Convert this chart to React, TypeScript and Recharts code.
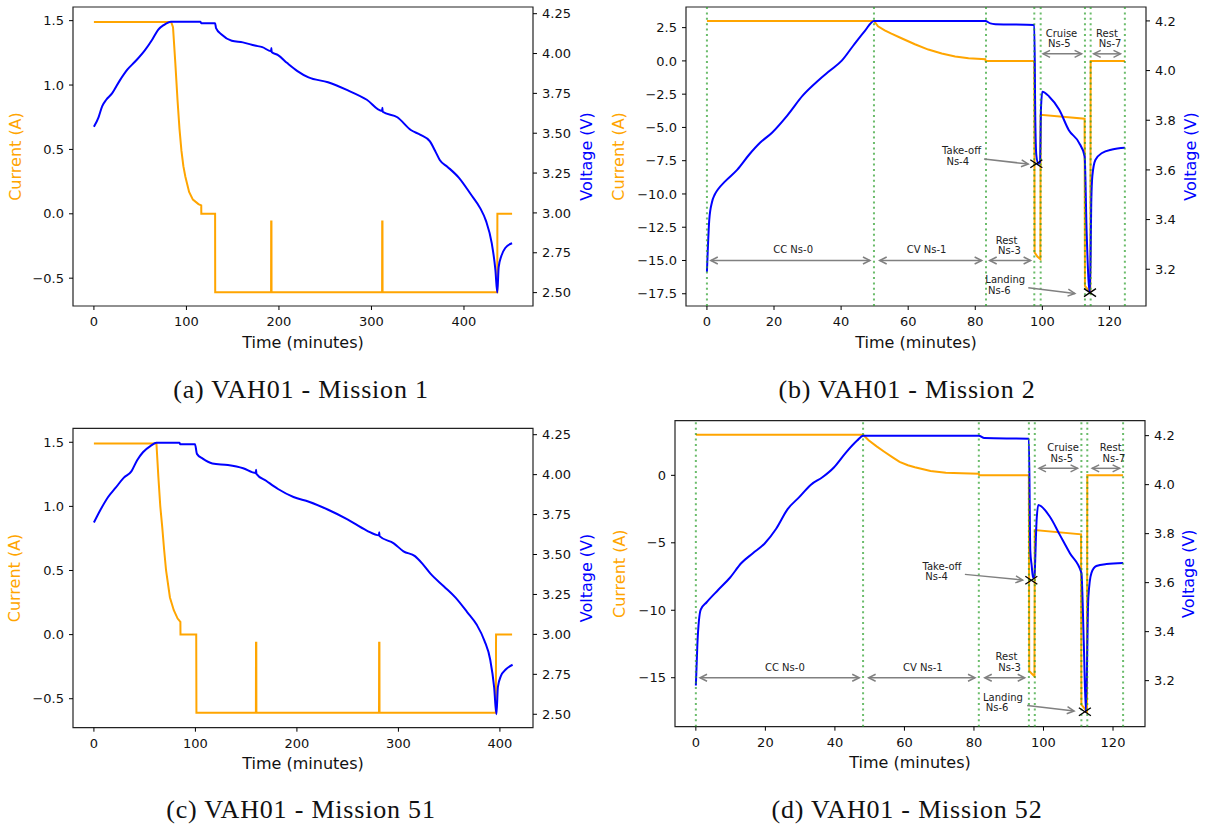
import React from 'react'
import {
    LineChart,
    Line,
    XAxis,
    YAxis,
    ReferenceLine,
    ReferenceDot,
    ReferenceArea,
    Label,
} from 'recharts'

// ---------- Mission 1 ----------
const m1Current = [
    [0, 1.49], [83.5, 1.49], [85.5, 1.45], [88, 1.17], [90.4, 0.88], [92.5, 0.66], [94.6, 0.49],
    [96.7, 0.37], [98.8, 0.29], [102.9, 0.17], [107, 0.11], [113, 0.075], [116, 0.065], [116.1, 0],
    [131, 0], [131.1, -0.61], [191.5, -0.61], [191.6, -0.06], [191.9, -0.06], [192, -0.61],
    [311.5, -0.61], [311.6, -0.06], [311.9, -0.06], [312, -0.61], [436, -0.61], [436.1, 0], [452, 0],
]
const m1Voltage = [
    [0, 3.54], [5, 3.6], [9, 3.67], [13.3, 3.71], [19.6, 3.75], [27.9, 3.83], [36.3, 3.9],
    [44.6, 3.95], [55, 4.02], [63.3, 4.09], [69.6, 4.15], [75.8, 4.18], [83.3, 4.2], [115, 4.2],
    [116, 4.19], [131, 4.19], [132, 4.16], [138, 4.12], [149, 4.08], [161, 4.07], [174, 4.05],
    [182, 4.04], [191.5, 4.015], [191.8, 4.035], [192.1, 4.01], [199, 3.99], [209, 3.94],
    [220, 3.89], [232, 3.85], [253, 3.82], [274, 3.77], [295, 3.71], [311.5, 3.64], [311.8, 3.66],
    [312.1, 3.635], [328, 3.6], [342.5, 3.52], [353, 3.49], [363, 3.45], [369.6, 3.38], [374, 3.33],
    [382, 3.29], [394.6, 3.22], [407, 3.12], [417.5, 3.03], [423.8, 2.95], [430, 2.81], [434, 2.64],
    [436, 2.5], [437.5, 2.66], [440.4, 2.73], [444.6, 2.78], [452, 2.81],
]

// ---------- Mission 51 ----------
const m51Current = [
    [0, 1.49], [61.6, 1.49], [63.5, 1.23], [65.4, 1.0], [67.3, 0.84], [69.2, 0.66], [71.1, 0.5],
    [74.9, 0.29], [78.7, 0.19], [82.5, 0.125], [84.4, 0.107], [85.2, 0.1], [85.3, 0], [100.8, 0],
    [101, -0.61], [159.6, -0.61], [159.7, -0.063], [160, -0.063], [160.1, -0.61], [280.9, -0.61],
    [281, -0.063], [281.3, -0.063], [281.4, -0.61], [396, -0.61], [396.2, 0], [412, 0],
]
const m51Voltage = [
    [0, 3.7], [6.5, 3.78], [14, 3.86], [21.7, 3.92], [29.3, 3.98], [36.9, 4.02], [42.6, 4.09],
    [48.3, 4.14], [55.9, 4.18], [61.6, 4.2], [84.4, 4.2], [85, 4.19], [99.6, 4.19], [101.5, 4.13],
    [107.2, 4.1], [116.7, 4.07], [132, 4.06], [147, 4.04], [159.5, 4.01], [159.8, 4.03],
    [160.1, 4.005], [170, 3.96], [181.4, 3.91], [196.6, 3.86], [211.8, 3.83], [230.8, 3.78],
    [249.8, 3.72], [268.8, 3.65], [280.8, 3.62], [281.1, 3.64], [281.4, 3.615], [295.4, 3.57],
    [305, 3.52], [316.3, 3.49], [324, 3.44], [331.6, 3.38], [344.9, 3.3], [356.3, 3.23],
    [367.7, 3.14], [377.2, 3.06], [384.8, 2.96], [390.5, 2.84], [394.3, 2.67], [396.6, 2.5],
    [398, 2.67], [401, 2.74], [405.7, 2.78], [412.5, 2.81],
]

// ---------- Mission 2 ----------
const m2Current = [
    [0, 3.0], [49.8, 3.0], [51, 2.6], [53, 2.3], [55, 2.05], [58, 1.7], [62, 1.25], [66, 0.85],
    [70, 0.55], [74, 0.33], [78, 0.2], [83, 0.12], [83.1, 0], [97.6, 0], [97.7, -14.4],
    [98.5, -14.7], [99.4, -14.9], [99.5, -4.05], [112.6, -4.35], [112.7, -16.9], [114.3, -17.4],
    [114.4, 0], [124.6, 0],
]
const m2Voltage = [
    [0, 3.19], [0.23, 3.27], [0.7, 3.4], [1.5, 3.47], [2.3, 3.5], [3.2, 3.52], [5.5, 3.555],
    [9, 3.6], [12.5, 3.66], [15.9, 3.71], [19.4, 3.75], [24, 3.82], [28.6, 3.9], [33.2, 3.96],
    [36.7, 4.0], [40.2, 4.04], [43.6, 4.1], [47.1, 4.16], [49.8, 4.2], [83, 4.2], [84.5, 4.19],
    [86, 4.187], [97.6, 4.184], [97.9, 3.8], [98.2, 3.66], [98.8, 3.625], [99.3, 3.63],
    [99.6, 3.85], [100, 3.915], [102, 3.896], [105, 3.843], [107.9, 3.76], [110.9, 3.71],
    [112.6, 3.655], [113.2, 3.35], [113.8, 3.147], [114.2, 3.106], [114.6, 3.48], [114.9, 3.575],
    [115.8, 3.64], [117.8, 3.668], [120.8, 3.682], [124.6, 3.689],
]
const m2Phases = [0, 49.8, 83.2, 97.6, 99.5, 112.7, 114.4, 124.6]
const m2Spans = [
    [1.15, 48.6, -15], [51.5, 81.9, -15], [84.3, 96.5, -15], [100.2, 111.7, 0.53], [115.3, 123.3, 0.53],
]
const m2Pointers = [
    [82.6, -7.38, 95.8, -7.75], [95.8, -17.05, 109.7, -17.48],
]
const m2Notes = [
    ['CC Ns-0', 25.7, -14.2, 'middle'], ['CV Ns-1', 65.5, -14.2, 'middle'],
    ['Rest', 86.1, -13.48, 'start'], ['Ns-3', 86.8, -14.23, 'start'],
    ['Cruise', 101.0, 2.08, 'start'], ['Ns-5', 101.7, 1.28, 'start'],
    ['Rest', 116.0, 2.08, 'start'], ['Ns-7', 116.8, 1.28, 'start'],
    ['Take-off', 70.1, -6.75, 'start'], ['Ns-4', 71.4, -7.55, 'start'],
    ['Landing', 83.0, -16.43, 'start'], ['Ns-6', 83.8, -17.23, 'start'],
]
const m2Marks = [[98.2, 3.625], [114.2, 3.106]]

// ---------- Mission 52 ----------
const m52Current = [
    [0, 3.0], [48.1, 3.0], [49.7, 2.6], [52, 2.15], [54.2, 1.75], [56.5, 1.35], [58.6, 1.0],
    [61, 0.75], [63, 0.6], [67.5, 0.32], [71.9, 0.2], [76.4, 0.15], [81.4, 0.12], [81.5, 0],
    [95.8, 0], [95.9, -14.5], [97.4, -14.9], [97.5, -4.05], [110.8, -4.37], [110.9, -17.0],
    [112.5, -17.5], [112.6, 0], [122.9, 0],
]
const m52Voltage = [
    [0, 3.18], [0.44, 3.35], [1.4, 3.49], [3.1, 3.52], [6.4, 3.57], [9.8, 3.62], [13.1, 3.68],
    [16.4, 3.72], [19.8, 3.76], [23.1, 3.82], [26.4, 3.9], [29.8, 3.95], [33.1, 4.0], [36.4, 4.03],
    [39.7, 4.07], [43.1, 4.13], [46.4, 4.18], [48.1, 4.2], [81.4, 4.2], [83, 4.19], [95.8, 4.187],
    [96.2, 3.73], [96.6, 3.67], [97, 3.62], [97.4, 3.63], [98, 3.85], [98.5, 3.917], [101.8, 3.87],
    [104.7, 3.795], [107.6, 3.72], [110.9, 3.64], [111.6, 3.35], [112.2, 3.073], [112.9, 3.54],
    [113.8, 3.64], [115.2, 3.668], [118.1, 3.676], [122.9, 3.68],
]
const m52Phases = [0, 48.1, 81.4, 95.8, 97.5, 110.9, 112.6, 122.9]
const m52Spans = [
    [1.2, 47.0, -15], [49.7, 80.3, -15], [83.1, 94.6, -15], [98.7, 109.8, 0.52], [114.0, 121.9, 0.52],
]
const m52Pointers = [
    [77.4, -7.34, 94.0, -7.76], [95.3, -17.05, 108.8, -17.47],
]
const m52Notes = [
    ['CC Ns-0', 25.6, -14.23, 'middle'], ['CV Ns-1', 65.3, -14.23, 'middle'],
    ['Rest', 86.2, -13.45, 'start'], ['Ns-3', 87.0, -14.23, 'start'],
    ['Cruise', 101.1, 2.07, 'start'], ['Ns-5', 102.0, 1.26, 'start'],
    ['Rest', 116.2, 2.07, 'start'], ['Ns-7', 117.0, 1.26, 'start'],
    ['Take-off', 65.2, -6.72, 'start'], ['Ns-4', 66.0, -7.52, 'start'],
    ['Landing', 82.6, -16.46, 'start'], ['Ns-6', 83.4, -17.22, 'start'],
]
const m52Marks = [[96.5, 3.61], [111.9, 3.073]]

// ---------- ticks ----------
const longTimeTicks = [0, 100, 200, 300, 400]
const flightTimeTicks = [0, 20, 40, 60, 80, 100, 120]
const smallCurrentTicks = [-0.5, 0, 0.5, 1, 1.5]
const wideVoltageTicks = [2.5, 2.75, 3, 3.25, 3.5, 3.75, 4, 4.25]
const m2CurrentTicks = [-17.5, -15, -12.5, -10, -7.5, -5, -2.5, 0, 2.5]
const m52CurrentTicks = [-15, -10, -5, 0]
const flightVoltageTicks = [3.2, 3.4, 3.6, 3.8, 4.0, 4.2]

const fmt = (digits: number) => (v: number) =>
    (v < 0 ? '\u2212' : '') + Math.abs(v).toFixed(digits)

const GRAY = '#808080'
const tickStyle = { fontSize: 13, fill: '#111', fontFamily: 'DejaVu Sans' }

function head(x: number, y: number, ux: number, uy: number) {
    const len = 7
    const half = 3.5
    const bx = x - ux * len
    const by = y - uy * len
    return `${bx - uy * half},${by + ux * half} ${x},${y} ${bx + uy * half},${by - ux * half}`
}

const arrowShape = (both: boolean) => (p: any) => {
    const { x1, y1, x2, y2 } = p
    const d = Math.hypot(x2 - x1, y2 - y1) || 1
    const ux = (x2 - x1) / d
    const uy = (y2 - y1) / d
    return (
        <g>
            <line x1={x1} y1={y1} x2={x2} y2={y2} stroke={GRAY} strokeWidth={1.5} />
            <polyline points={head(x2, y2, ux, uy)} fill="none" stroke={GRAY} strokeWidth={1.5} />
            {both && (
                <polyline points={head(x1, y1, -ux, -uy)} fill="none" stroke={GRAY} strokeWidth={1.5} />
            )}
        </g>
    )
}

const crossShape = (p: any) => (
    <g stroke="#000" strokeWidth={1.3}>
        <line x1={p.cx - 6} y1={p.cy - 4} x2={p.cx + 6} y2={p.cy + 4} />
        <line x1={p.cx - 6} y1={p.cy + 4} x2={p.cx + 6} y2={p.cy - 4} />
    </g>
)

function Panel(props: any) {
    const {
        box, plot, xDomain, xTicks, iDomain, iTicks, iDigits, vDomain, vTicks, vDigits,
        current, voltage, labelX, phases = [], spans = [], pointers = [], notes = [], marks = [],
    } = props
    const iData = current.map(([t, i]: number[]) => ({ t, i }))
    const vData = voltage.map(([t, v]: number[]) => ({ t, v }))
    const midY = (plot.top + plot.bottom) / 2
    const midX = (plot.left + plot.right) / 2
    return (
        <div style={{ position: 'absolute', left: box.left, top: box.top }}>
            <LineChart
                width={box.w}
                height={box.h}
                margin={{ top: plot.top, right: 0, bottom: 0, left: 0 }}
                style={{ fontFamily: 'DejaVu Sans' }}
            >
                <XAxis
                    dataKey="t"
                    type="number"
                    domain={xDomain}
                    ticks={xTicks}
                    interval={0}
                    allowDataOverflow
                    height={box.h - plot.bottom}
                    axisLine={false}
                    tickSize={4}
                    tickMargin={7}
                    tick={tickStyle}
                    tickLine={{ stroke: '#000' }}
                >
                    <Label
                        content={() => (
                            <text
                                x={midX}
                                y={plot.bottom + 36}
                                textAnchor="middle"
                                dominantBaseline="central"
                                fontSize={16}
                                fill="#111"
                                fontFamily="DejaVu Sans"
                            >
                                Time (minutes)
                            </text>
                        )}
                    />
                </XAxis>
                <YAxis
                    yAxisId="i"
                    type="number"
                    domain={iDomain}
                    ticks={iTicks}
                    interval={0}
                    allowDataOverflow
                    width={plot.left}
                    axisLine={false}
                    tickSize={4}
                    tickMargin={5}
                    tick={tickStyle}
                    tickLine={{ stroke: '#000' }}
                    tickFormatter={fmt(iDigits)}
                >
                    <Label
                        content={() => (
                            <text
                                x={labelX[0]}
                                y={midY}
                                transform={`rotate(-90, ${labelX[0]}, ${midY})`}
                                textAnchor="middle"
                                dominantBaseline="central"
                                fontSize={16}
                                fill="orange"
                                fontFamily="DejaVu Sans"
                            >
                                Current (A)
                            </text>
                        )}
                    />
                </YAxis>
                <YAxis
                    yAxisId="v"
                    orientation="right"
                    type="number"
                    domain={vDomain}
                    ticks={vTicks}
                    interval={0}
                    allowDataOverflow
                    width={box.w - plot.right}
                    axisLine={false}
                    tickSize={4}
                    tickMargin={5}
                    tick={tickStyle}
                    tickLine={{ stroke: '#000' }}
                    tickFormatter={fmt(vDigits)}
                >
                    <Label
                        content={() => (
                            <text
                                x={labelX[1]}
                                y={midY}
                                transform={`rotate(-90, ${labelX[1]}, ${midY})`}
                                textAnchor="middle"
                                dominantBaseline="central"
                                fontSize={16}
                                fill="blue"
                                fontFamily="DejaVu Sans"
                            >
                                Voltage (V)
                            </text>
                        )}
                    />
                </YAxis>
                <Line
                    data={iData}
                    dataKey="i"
                    yAxisId="i"
                    type="linear"
                    stroke="orange"
                    strokeWidth={2}
                    dot={false}
                    isAnimationActive={false}
                />
                <Line
                    data={vData}
                    dataKey="v"
                    yAxisId="v"
                    type="monotone"
                    stroke="blue"
                    strokeWidth={2}
                    dot={false}
                    isAnimationActive={false}
                />
                {phases.map((t: number, k: number) => (
                    <ReferenceLine
                        key={'p' + k}
                        x={t}
                        yAxisId="i"
                        stroke="#2ca02c"
                        strokeOpacity={0.7}
                        strokeWidth={2}
                        strokeDasharray="2 3.4"
                    />
                ))}
                {spans.map(([a, b, y]: number[], k: number) => (
                    <ReferenceLine
                        key={'s' + k}
                        yAxisId="i"
                        segment={[{ x: a, y }, { x: b, y }]}
                        ifOverflow="visible"
                        shape={arrowShape(true)}
                    />
                ))}
                {pointers.map(([a, ya, b, yb]: number[], k: number) => (
                    <ReferenceLine
                        key={'a' + k}
                        yAxisId="i"
                        segment={[{ x: a, y: ya }, { x: b, y: yb }]}
                        ifOverflow="visible"
                        shape={arrowShape(false)}
                    />
                ))}
                {notes.map(([text, t, y, anchor]: any[], k: number) => (
                    <ReferenceDot
                        key={'n' + k}
                        x={t}
                        y={y}
                        yAxisId="i"
                        r={1}
                        ifOverflow="visible"
                        shape={(p: any) => (
                            <text
                                x={p.cx}
                                y={p.cy}
                                textAnchor={anchor}
                                dominantBaseline="central"
                                fontSize={10}
                                fill="#222"
                                fontFamily="DejaVu Sans"
                            >
                                {text}
                            </text>
                        )}
                    />
                ))}
                {marks.map(([t, v]: number[], k: number) => (
                    <ReferenceDot
                        key={'m' + k}
                        x={t}
                        y={v}
                        yAxisId="v"
                        r={4}
                        ifOverflow="visible"
                        shape={crossShape}
                    />
                ))}
                <ReferenceArea
                    x1={xDomain[0]}
                    x2={xDomain[1]}
                    y1={iDomain[0]}
                    y2={iDomain[1]}
                    yAxisId="i"
                    ifOverflow="visible"
                    fill="none"
                    stroke="#222"
                    strokeWidth={1.2}
                />
            </LineChart>
        </div>
    )
}

function Caption({ text, cx, cy }: { text: string; cx: number; cy: number }) {
    return (
        <div
            style={{
                position: 'absolute',
                left: cx - 300,
                top: cy - 15,
                width: 600,
                lineHeight: '30px',
                textAlign: 'center',
                fontFamily: 'Liberation Serif',
                fontSize: 26,
                letterSpacing: 0.8,
                color: '#111',
                whiteSpace: 'nowrap',
            }}
        >
            {text}
        </div>
    )
}

export default function App() {
    return (
        <div
            style={{
                position: 'fixed',
                left: 0,
                top: 0,
                width: 1212,
                height: 827,
                background: '#fff',
                overflow: 'hidden',
            }}
        >
            <Panel
                box={{ left: 0, top: 0, w: 600, h: 360 }}
                plot={{ left: 73, right: 533, top: 7, bottom: 306 }}
                labelX={[15.5, 586]}
                xDomain={[-22.6, 474.6]}
                xTicks={longTimeTicks}
                iDomain={[-0.716, 1.606]}
                iTicks={smallCurrentTicks}
                iDigits={1}
                vDomain={[2.416, 4.292]}
                vTicks={wideVoltageTicks}
                vDigits={2}
                current={m1Current}
                voltage={m1Voltage}
            />
            <Panel
                box={{ left: 606, top: 0, w: 606, h: 360 }}
                plot={{ left: 80, right: 540, top: 7, bottom: 306 }}
                labelX={[12.7, 584]}
                xDomain={[-6.24, 130.9]}
                xTicks={flightTimeTicks}
                iDomain={[-18.42, 4.05]}
                iTicks={m2CurrentTicks}
                iDigits={1}
                vDomain={[3.052, 4.256]}
                vTicks={flightVoltageTicks}
                vDigits={1}
                current={m2Current}
                voltage={m2Voltage}
                phases={m2Phases}
                spans={m2Spans}
                pointers={m2Pointers}
                notes={m2Notes}
                marks={m2Marks}
            />
            <Panel
                box={{ left: 0, top: 420, w: 600, h: 360 }}
                plot={{ left: 73, right: 533, top: 8.3, bottom: 307.7 }}
                labelX={[14.7, 586]}
                xDomain={[-20.6, 432.6]}
                xTicks={longTimeTicks}
                iDomain={[-0.726, 1.609]}
                iTicks={smallCurrentTicks}
                iDigits={1}
                vDomain={[2.416, 4.29]}
                vTicks={wideVoltageTicks}
                vDigits={2}
                current={m51Current}
                voltage={m51Voltage}
            />
            <Panel
                box={{ left: 606, top: 410, w: 606, h: 370 }}
                plot={{ left: 69, right: 539, top: 10.7, bottom: 316.7 }}
                labelX={[13.5, 583]}
                xDomain={[-6.0, 129.2]}
                xTicks={flightTimeTicks}
                iDomain={[-18.63, 4.05]}
                iTicks={m52CurrentTicks}
                iDigits={0}
                vDomain={[3.012, 4.261]}
                vTicks={flightVoltageTicks}
                vDigits={1}
                current={m52Current}
                voltage={m52Voltage}
                phases={m52Phases}
                spans={m52Spans}
                pointers={m52Pointers}
                notes={m52Notes}
                marks={m52Marks}
            />
            <Caption text="(a) VAH01 - Mission 1" cx={301} cy={390} />
            <Caption text="(b) VAH01 - Mission 2" cx={907} cy={390} />
            <Caption text="(c) VAH01 - Mission 51" cx={301} cy={810} />
            <Caption text="(d) VAH01 - Mission 52" cx={907} cy={810} />
        </div>
    )
}
